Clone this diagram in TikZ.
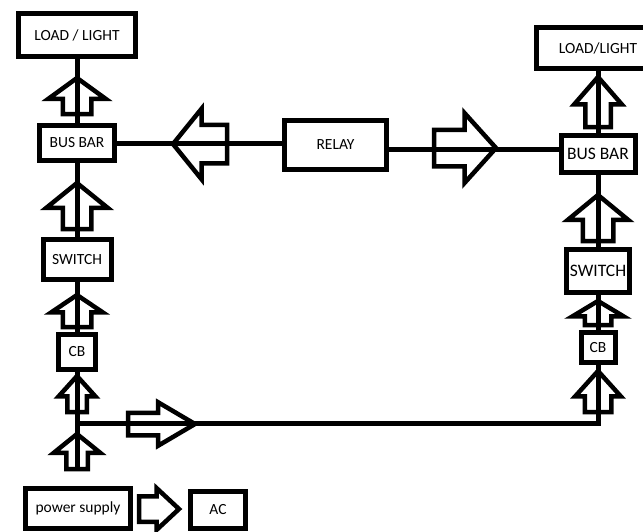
\documentclass[tikz,border=0pt]{standalone}
\usepackage{fontspec}
\setmainfont{Carlito}
\usetikzlibrary{shapes.arrows}

\begin{document}
\begin{tikzpicture}[x=1pt, y=-1pt,
  box/.style={rectangle, draw, line width=5pt, inner sep=0pt, align=center,
    font=\fontsize{15.5}{18}\selectfont},
  wire/.style={line width=5pt},
  flow/.style={single arrow, draw, line width=4.5pt, inner xsep=0pt, outer sep=0pt,
    single arrow head indent=0pt, anchor=tip}]

  \useasboundingbox (0,0) rectangle (643,531);
  \clip (0,0) rectangle (643,531);

  % Left branch
  \node[box, minimum width=117, minimum height=43] (lload) at (77,35) {LOAD / LIGHT};
  \node[box, minimum width=75, minimum height=35] (lbus) at (77,143) {BUS BAR};
  \node[box, minimum width=68, minimum height=40] (lsw) at (77,259.5) {SWITCH};
  \node[box, minimum width=37, minimum height=35] (lcb) at (77,352) {CB};

  % Relay in the middle
  \node[box, minimum width=102, minimum height=49] (relay) at (335.5,145) {RELAY};

  % Right branch
  \node[box, minimum width=123, minimum height=41] (rload) at (598,48) {LOAD/LIGHT};
  \node[box, minimum width=74, minimum height=37, font=\fontsize{17.5}{20}\selectfont] (rbus) at (598,154) {BUS BAR};
  \node[box, minimum width=63, minimum height=43, font=\fontsize{17.5}{20}\selectfont] (rsw) at (598,271) {SWITCH};
  \node[box, minimum width=34, minimum height=30] (rcb) at (598,347.5) {CB};

  % Supply at the bottom
  \node[box, minimum width=105, minimum height=40] (psu) at (78,508.5) {power supply};
  \node[box, minimum width=55, minimum height=37] (ac) at (218,510) {AC};

  \coordinate (lfoot) at (77,470);
  \coordinate (ljoin) at (77,423);
  \coordinate (rjoin) at (598,423);
  \coordinate (rl) at ([yshift=-4pt]relay.east);

  % Wires
  \draw[wire] (lload) -- (lbus);
  \draw[wire] (lbus) -- (lsw);
  \draw[wire] (lsw) -- (lcb);
  \draw[wire] (lcb) -- (lfoot);
  \draw[wire] (ljoin) -- (rjoin) -- (rcb);
  \draw[wire] (rcb) -- (rsw);
  \draw[wire] (rsw) -- (rbus);
  \draw[wire] (rbus) -- (rload);
  \draw[wire] (lbus.east) -- (lbus.east -| relay.west);
  \draw[wire] (rl) -- (rl -| rbus.west);

  % Hollow flow arrows, left side
  \node[flow, rotate=90, minimum height=36, inner ysep=12, single arrow head extend=14.5, single arrow tip angle=108] (a1) at (77,78) {};
  \node[flow, rotate=90, minimum height=46, inner ysep=12, single arrow head extend=16.5, single arrow tip angle=102] (a2) at (77,183) {};
  \node[flow, rotate=90, minimum height=32, inner ysep=12, single arrow head extend=11.5, single arrow tip angle=112] (a3) at (77,295) {};
  \node[flow, rotate=90, minimum height=36, inner ysep=7.5, single arrow head extend=8.5, single arrow tip angle=84] (a4) at (77,376) {};
  \node[flow, rotate=90, minimum height=35, inner ysep=8.5, single arrow head extend=12.5, single arrow tip angle=102] (a5) at (77,434) {};

  % Hollow flow arrows, right side
  \node[flow, rotate=90, minimum height=50, inner ysep=10.5, single arrow head extend=11, single arrow tip angle=82] (b1) at (598,77) {};
  \node[flow, rotate=90, minimum height=46, inner ysep=13, single arrow head extend=15, single arrow tip angle=101] (b2) at (598,195) {};
  \node[flow, rotate=90, minimum height=24, inner ysep=11, single arrow head extend=12.5, single arrow tip angle=118] (b3) at (598,301) {};
  \node[flow, rotate=90, minimum height=41, inner ysep=11, single arrow head extend=9.5, single arrow tip angle=84] (b4) at (598,371) {};

  % Horizontal flow arrows
  \node[flow, rotate=180, minimum height=54, inner ysep=17, single arrow head extend=16, single arrow tip angle=102] (h1) at (173,144) {};
  \node[flow, minimum height=62, inner ysep=16, single arrow head extend=16.5, single arrow tip angle=96] (h2) at (496,148) {};
  \node[flow, minimum height=67, inner ysep=9, single arrow head extend=10.5, single arrow tip angle=61] (h3) at (195,424) {};
  \node[flow, minimum height=40, inner ysep=10.5, single arrow head extend=8, single arrow tip angle=86] (h4) at (179,509) {};
\end{tikzpicture}
\end{document}
